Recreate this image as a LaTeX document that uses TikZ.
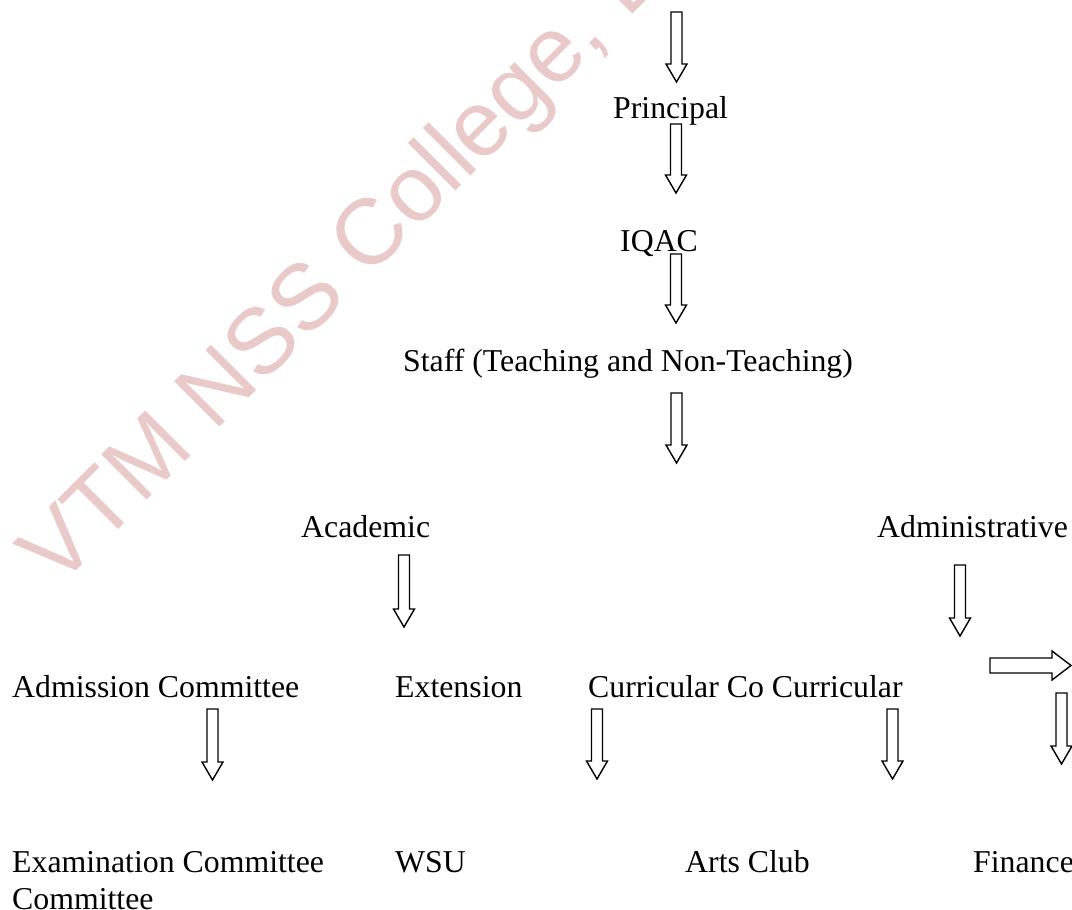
\documentclass[tikz,border=0pt]{standalone}
\usepackage{fontspec}
\setmainfont{Liberation Serif}
\newfontfamily\markfont{Liberation Sans}
\usetikzlibrary{calc}
\definecolor{MarkPink}{RGB}{234,201,201}
\tikzset{
  orgtext/.style={anchor=base west, inner sep=0pt, font=\fontsize{31.8}{37}\selectfont, align=left},
  watermark/.style={text=MarkPink, font=\markfont\fontsize{93}{100}\selectfont,
    rotate=45, anchor=base west, inner sep=0pt},
  % hollow block arrows, drawn between two points
  downarrow/.style={draw=black, line width=1.4pt, fill=white,
    to path={let \p1=(\tikztostart), \p2=(\tikztotarget) in
      (\x1-5.5pt,\y1) -- (\x1+5.5pt,\y1) -- (\x1+5.5pt,\y2+18pt) -- (\x1+10.5pt,\y2+18pt)
      -- (\x1,\y2) -- (\x1-10.5pt,\y2+18pt) -- (\x1-5.5pt,\y2+18pt) -- cycle}},
  rightarrow/.style={draw=black, line width=1.4pt, fill=white,
    to path={let \p1=(\tikztostart), \p2=(\tikztotarget) in
      (\x1,\y1+7.5pt) -- (\x2-19pt,\y1+7.5pt) -- (\x2-19pt,\y1+14.5pt) -- (\x2,\y1)
      -- (\x2-19pt,\y1-14.5pt) -- (\x2-19pt,\y1-7.5pt) -- (\x1,\y1-7.5pt) -- cycle}},
}

\begin{document}
\begin{tikzpicture}[x=1pt,y=-1pt]
  \useasboundingbox (0,0) rectangle (1072,910);
  \clip (0,0) rectangle (1072,910);

  % background mark
  \node[watermark] (mark) at (57,590) {VTM NSS College, D};

  % hierarchy
  \node[orgtext] (principal) at (613,118) {Principal};
  \node[orgtext] (iqac) at (620,251) {IQAC};
  \node[orgtext] (staff) at (403,371) {Staff (Teaching and Non-Teaching)};
  \node[orgtext] (academic) at (301,537) {Academic};
  \node[orgtext] (admin) at (877,537) {Administrative};
  \node[orgtext] (admission) at (12,697) {Admission Committee};
  \node[orgtext] (extension) at (395,697) {Extension};
  \node[orgtext] (curric) at (588,697) {Curricular Co Curricular};
  \node[orgtext] (exam) at (12,909) {Examination Committee\\Committee};
  \node[orgtext] (wsu) at (395,872) {WSU};
  \node[orgtext] (arts) at (685,872) {Arts Club};
  \node[orgtext] (finance) at (973,872) {Finance};

  % down arrows: name/x/top/tip
  \foreach \id/\x/\ya/\yb in {top/676.5/12/82, pri/676/124/193, iq/676/254/323,
      st/676.5/393/463, ac/404/555/627, ad/960/565/636, fi/1061.5/693/764,
      adm/212.5/709/780, cl/597/709/779, cr/892.5/709/779}{
    \coordinate (\id-a) at (\x,\ya);
    \coordinate (\id-b) at (\x,\yb);
    \draw[downarrow] (\id-a) to (\id-b);
  }
  \coordinate (side-a) at (990,665.5);
  \coordinate (side-b) at (1071,665.5);
  \draw[rightarrow] (side-a) to (side-b);
\end{tikzpicture}
\end{document}
